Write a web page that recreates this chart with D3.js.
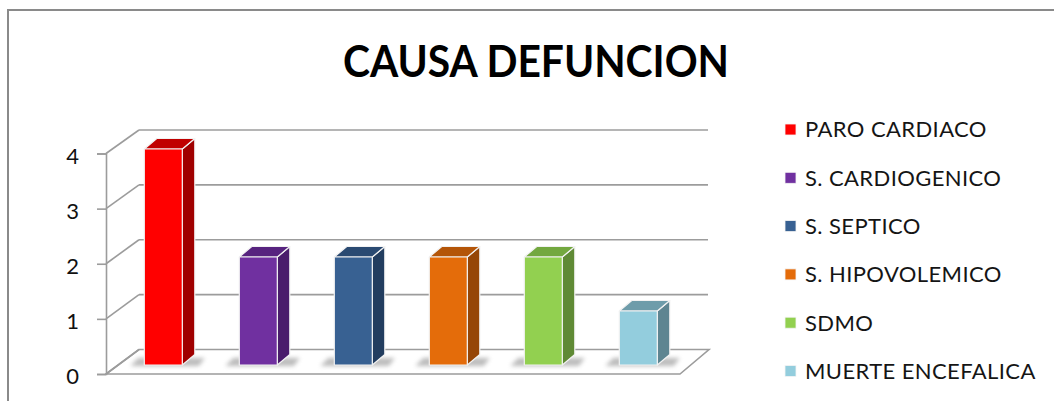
<!DOCTYPE html>
<html>
<head>
<meta charset="utf-8">
<script src="https://cdn.jsdelivr.net/npm/d3@7"></script>
<style>
  html, body { margin: 0; padding: 0; background: #fff; }
  svg { display: block; }
</style>
</head>
<body>
<svg id="chart" width="1054" height="401"></svg>
<script>
// Causes of death and their counts
const categories = ["PARO CARDIACO", "S. CARDIOGENICO", "S. SEPTICO", "S. HIPOVOLEMICO", "SDMO", "MUERTE ENCEFALICA"];
const values = [4, 2, 2, 2, 2, 1];
const tickValues = [0, 1, 2, 3, 4];
const chartTitle = "CAUSA DEFUNCION";

// Face colours per series: front, top, side
const frontColors = ["#FF0000", "#7030A0", "#386192", "#E46C0A", "#92D050", "#93CDDD"];
const topColors   = ["#C00000", "#57237F", "#2A4A72", "#B45508", "#73A83F", "#6E9CAA"];
const sideColors  = ["#A00000", "#4A1C6C", "#223D5F", "#964607", "#5F8A35", "#5E8591"];

const svg = d3.select("#chart");
const font = "Lato, 'Open Sans', sans-serif";
const gridColor = "#9c9c9c";

// Outer chart frame
svg.append("rect")
  .attr("x", 8).attr("y", 10)
  .attr("width", 1060).attr("height", 420)
  .attr("fill", "none").attr("stroke", "#8a8a8a").attr("stroke-width", 2);

// Title
svg.append("text")
  .attr("x", 343).attr("y", 77)
  .attr("font-family", font).attr("font-weight", 700)
  .attr("font-size", 43)
  .attr("textLength", 386).attr("lengthAdjust", "spacingAndGlyphs")
  .attr("fill", "#000")
  .text(chartTitle);

// Oblique 3D geometry: front plane, back wall, bar plane
const axisX = 106, backX = 139, backRight = 709, floorFrontRight = 680;
const yFront = d3.scaleLinear().domain([0, 4]).range([374, 153.5]);
const yBack  = d3.scaleLinear().domain([0, 4]).range([349.5, 130]);
const yBar   = d3.scaleLinear().domain([0, 4]).range([365, 149]);
const x = d3.scaleBand().domain(categories).range([115.8, 685.8]).paddingInner(0.6).paddingOuter(0.3);
const depthX = 12.5, depthY = -10.5;

// Floor
svg.append("polygon")
  .attr("points", [[axisX, yFront(0)], [floorFrontRight, yFront(0)], [backRight, yBack(0)], [backX, yBack(0)]].map(p => p.join(",")).join(" "))
  .attr("fill", "#fff").attr("stroke", gridColor).attr("stroke-width", 1.6);

// Back gridlines and side-wall diagonals
const grid = svg.append("g").attr("stroke", gridColor).attr("stroke-width", 1.6).attr("fill", "none");
tickValues.forEach(v => {
  if (v > 0) {
    grid.append("line")
      .attr("x1", backX).attr("x2", backRight - 1)
      .attr("y1", yBack(v)).attr("y2", yBack(v));
  }
  grid.append("line")
    .attr("x1", axisX).attr("y1", yFront(v))
    .attr("x2", backX).attr("y2", yBack(v));
});

// Vertical axis with ticks
const axis = d3.axisLeft(yFront).tickValues(tickValues).tickSize(9).tickPadding(18).tickFormat(d3.format("d"));
const axisG = svg.append("g").attr("transform", `translate(${axisX},0)`).call(axis);
axisG.select(".domain").attr("stroke", gridColor).attr("stroke-width", 1.6);
axisG.selectAll(".tick line").attr("stroke", gridColor).attr("stroke-width", 1.6);
axisG.selectAll(".tick text")
  .attr("font-family", font).attr("font-size", 22).attr("fill", "#111")
  .attr("dy", "0.45em");

// Soft shadows at bar bases
const defs = svg.append("defs");
defs.append("filter").attr("id", "blur").attr("x", "-50%").attr("y", "-200%").attr("width", "200%").attr("height", "500%")
  .append("feGaussianBlur").attr("stdDeviation", 2.2);

const bars = svg.append("g");
categories.forEach((c, i) => {
  const x0 = x(c), w = x.bandwidth();
  const yb = yBar(0);
  // shadow on the floor
  bars.append("polygon")
    .attr("points", [[x0 - 14, yb + 1], [x0 + w + depthX + 4, yb + 1], [x0 + w + depthX + 10, yb - 7], [x0 - 6, yb - 7]].map(p => p.join(",")).join(" "))
    .attr("fill", "#7a7a7a").attr("opacity", 0.5).attr("filter", "url(#blur)");
});

categories.forEach((c, i) => {
  const x0 = x(c), w = x.bandwidth();
  const yb = yBar(0), yt = yBar(values[i]);
  const g = bars.append("g").attr("stroke", "#f2f2f2").attr("stroke-width", 1.2).attr("stroke-linejoin", "round");
  // side face
  g.append("polygon")
    .attr("points", [[x0 + w, yb], [x0 + w + depthX, yb + depthY], [x0 + w + depthX, yt + depthY], [x0 + w, yt]].map(p => p.join(",")).join(" "))
    .attr("fill", sideColors[i]);
  // top face
  g.append("polygon")
    .attr("points", [[x0, yt], [x0 + depthX, yt + depthY], [x0 + w + depthX, yt + depthY], [x0 + w, yt]].map(p => p.join(",")).join(" "))
    .attr("fill", topColors[i]);
  // front face
  g.append("rect")
    .attr("x", x0).attr("y", yt).attr("width", w).attr("height", yb - yt)
    .attr("fill", frontColors[i]);
});

// Legend
const legend = svg.append("g");
categories.forEach((c, i) => {
  const cy = 129.5 + i * 48.3;
  legend.append("rect")
    .attr("x", 785).attr("y", cy - 5.5).attr("width", 11).attr("height", 11)
    .attr("fill", frontColors[i]).attr("stroke", "#f4f4f4").attr("stroke-width", 0.8);
  legend.append("text")
    .attr("x", 805).attr("y", cy).attr("dy", "0.36em")
    .attr("font-family", font).attr("font-size", 22).attr("letter-spacing", 0.4)
    .attr("fill", "#151515")
    .text(c);
});
</script>
</body>
</html>
